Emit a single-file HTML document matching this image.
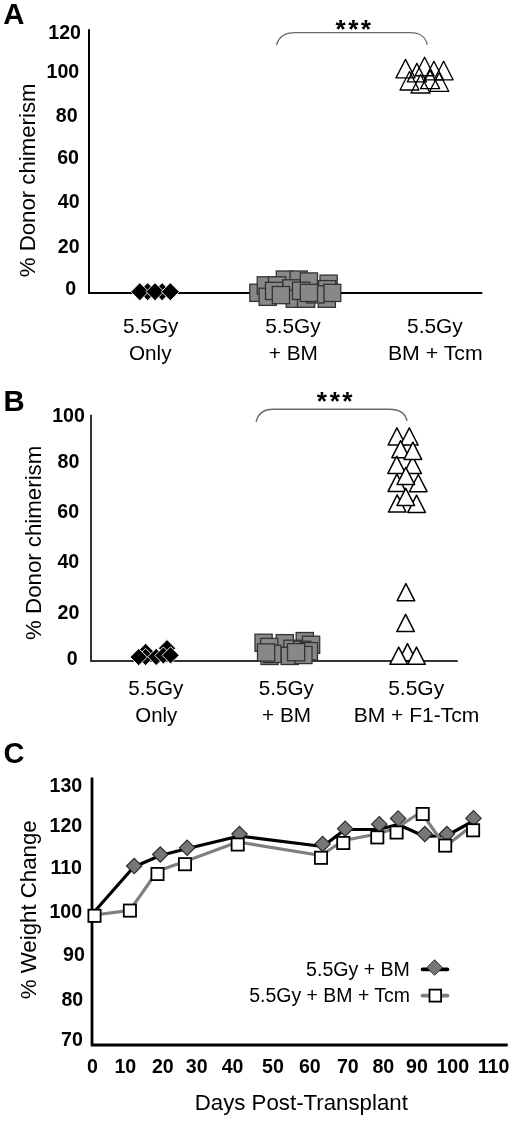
<!DOCTYPE html>
<html><head><meta charset="utf-8"><style>
html,body{margin:0;padding:0;background:#fff;}
svg{display:block;will-change:transform;}
text{font-family:"Liberation Sans", sans-serif;}
</style></head><body>
<svg width="520" height="1121" viewBox="0 0 520 1121">
<rect width="520" height="1121" fill="#fff"/>
<text x="3.27" y="23.90" font-size="29.3" font-weight="bold">A</text>
<text x="48.24" y="38.86" font-size="19.6" font-weight="bold">120</text>
<text x="46.54" y="77.81" font-size="19.6" font-weight="bold">100</text>
<text x="55.77" y="121.66" font-size="19.6" font-weight="bold">80</text>
<text x="57.17" y="163.51" font-size="19.6" font-weight="bold">60</text>
<text x="57.82" y="207.66" font-size="19.6" font-weight="bold">40</text>
<text x="57.77" y="253.21" font-size="19.6" font-weight="bold">20</text>
<text x="65.36" y="295.31" font-size="19.6" font-weight="bold">0</text>
<text transform="rotate(-90)" x="-277.28" y="35.30" font-size="22.7" textLength="193.82" lengthAdjust="spacingAndGlyphs">% Donor chimerism</text>
<path d="M89 29.2 V293 M88 293 H482.3" stroke="#000" stroke-width="2" fill="none"/>
<path d="M276.5 45.1 C278.5 37.5 285 32.6 295 32.6 L410 32.6 C420 32.6 426 37.5 427.2 44.7" stroke="#6a6a6a" stroke-width="1.4" fill="none"/>
<text x="335.47" y="37.78" font-size="26.3" font-weight="bold">*</text>
<text x="348.22" y="37.78" font-size="26.3" font-weight="bold">*</text>
<text x="360.72" y="37.78" font-size="26.3" font-weight="bold">*</text>
<path d="M138.60 291.70 L147.60 282.70 L156.60 291.70 L147.60 300.70 Z" fill="#000" stroke="#fff" stroke-width="0.85"/>
<path d="M153.10 291.70 L162.10 282.70 L171.10 291.70 L162.10 300.70 Z" fill="#000" stroke="#fff" stroke-width="0.85"/>
<path d="M130.80 291.70 L139.80 282.70 L148.80 291.70 L139.80 300.70 Z" fill="#000" stroke="#fff" stroke-width="0.85"/>
<path d="M146.00 291.70 L155.00 282.70 L164.00 291.70 L155.00 300.70 Z" fill="#000" stroke="#fff" stroke-width="0.85"/>
<path d="M161.30 291.70 L170.30 282.70 L179.30 291.70 L170.30 300.70 Z" fill="#000" stroke="#fff" stroke-width="0.85"/>
<rect x="249.8" y="284.2" width="17.2" height="17.2" fill="#888" stroke="#333" stroke-width="1.3"/>
<rect x="276.3" y="271.0" width="17.2" height="17.2" fill="#888" stroke="#333" stroke-width="1.3"/>
<rect x="290.1" y="271.0" width="17.2" height="17.2" fill="#888" stroke="#333" stroke-width="1.3"/>
<rect x="300.3" y="272.9" width="17.2" height="17.2" fill="#888" stroke="#333" stroke-width="1.3"/>
<rect x="320.0" y="275.1" width="17.2" height="17.2" fill="#888" stroke="#333" stroke-width="1.3"/>
<rect x="257.2" y="276.8" width="17.2" height="17.2" fill="#888" stroke="#333" stroke-width="1.3"/>
<rect x="268.5" y="276.8" width="17.2" height="17.2" fill="#888" stroke="#333" stroke-width="1.3"/>
<rect x="282.7" y="279.8" width="17.2" height="17.2" fill="#888" stroke="#333" stroke-width="1.3"/>
<rect x="259.1" y="288.2" width="17.2" height="17.2" fill="#888" stroke="#333" stroke-width="1.3"/>
<rect x="286.2" y="290.1" width="17.2" height="17.2" fill="#888" stroke="#333" stroke-width="1.3"/>
<rect x="297.5" y="290.1" width="17.2" height="17.2" fill="#888" stroke="#333" stroke-width="1.3"/>
<rect x="318.2" y="290.1" width="17.2" height="17.2" fill="#888" stroke="#333" stroke-width="1.3"/>
<rect x="265.5" y="282.3" width="17.2" height="17.2" fill="#888" stroke="#333" stroke-width="1.3"/>
<rect x="292.5" y="282.2" width="17.2" height="17.2" fill="#888" stroke="#333" stroke-width="1.3"/>
<rect x="318.5" y="280.6" width="17.2" height="17.2" fill="#888" stroke="#333" stroke-width="1.3"/>
<rect x="323.6" y="284.3" width="17.2" height="17.2" fill="#888" stroke="#333" stroke-width="1.3"/>
<rect x="306.7" y="285.8" width="17.2" height="17.2" fill="#888" stroke="#333" stroke-width="1.3"/>
<rect x="272.3" y="286.5" width="17.2" height="17.2" fill="#888" stroke="#333" stroke-width="1.3"/>
<rect x="300.3" y="284.3" width="17.2" height="17.2" fill="#888" stroke="#333" stroke-width="1.3"/>
<path d="M405.50 59.40 L415.00 77.90 L396.00 77.90 Z" fill="none" stroke="#000" stroke-width="1.35" stroke-linejoin="round"/>
<path d="M416.90 63.40 L426.40 81.90 L407.40 81.90 Z" fill="none" stroke="#000" stroke-width="1.35" stroke-linejoin="round"/>
<path d="M424.60 57.20 L434.10 75.70 L415.10 75.70 Z" fill="none" stroke="#000" stroke-width="1.35" stroke-linejoin="round"/>
<path d="M433.90 61.30 L443.40 79.80 L424.40 79.80 Z" fill="none" stroke="#000" stroke-width="1.35" stroke-linejoin="round"/>
<path d="M443.60 61.30 L453.10 79.80 L434.10 79.80 Z" fill="none" stroke="#000" stroke-width="1.35" stroke-linejoin="round"/>
<path d="M409.50 71.50 L419.00 90.00 L400.00 90.00 Z" fill="none" stroke="#000" stroke-width="1.35" stroke-linejoin="round"/>
<path d="M430.10 70.10 L439.60 88.60 L420.60 88.60 Z" fill="none" stroke="#000" stroke-width="1.35" stroke-linejoin="round"/>
<path d="M420.50 74.50 L430.00 93.00 L411.00 93.00 Z" fill="none" stroke="#000" stroke-width="1.35" stroke-linejoin="round"/>
<path d="M439.20 72.80 L448.70 91.30 L429.70 91.30 Z" fill="none" stroke="#000" stroke-width="1.35" stroke-linejoin="round"/>
<text x="122.97" y="333.40" font-size="20.8">5.5Gy</text>
<text x="265.17" y="333.40" font-size="20.8">5.5Gy</text>
<text x="407.06" y="333.40" font-size="20.8" textLength="55.70" lengthAdjust="spacingAndGlyphs">5.5Gy</text>
<text x="128.97" y="360.20" font-size="20.8" textLength="42.56" lengthAdjust="spacingAndGlyphs">Only</text>
<text x="268.76" y="360.20" font-size="20.8">+ BM</text>
<text x="387.90" y="360.20" font-size="20.8" textLength="94.78" lengthAdjust="spacingAndGlyphs">BM + Tcm</text>
<text x="3.40" y="410.60" font-size="29.3" font-weight="bold">B</text>
<text x="52.14" y="421.86" font-size="19.6" font-weight="bold">100</text>
<text x="57.62" y="468.31" font-size="19.6" font-weight="bold">80</text>
<text x="57.37" y="517.91" font-size="19.6" font-weight="bold">60</text>
<text x="57.47" y="568.31" font-size="19.6" font-weight="bold">40</text>
<text x="57.57" y="618.51" font-size="19.6" font-weight="bold">20</text>
<text x="66.66" y="665.21" font-size="19.6" font-weight="bold">0</text>
<text transform="rotate(-90)" x="-639.88" y="41.10" font-size="22.7" textLength="194.12" lengthAdjust="spacingAndGlyphs">% Donor chimerism</text>
<path d="M91 414.8 V661 M90 661 H457.8" stroke="#333" stroke-width="2" fill="none"/>
<path d="M256.1 421.8 C258 414 264 409.3 273 409.3 L389 409.3 C399 409.3 405.5 413.5 407 420.8" stroke="#6a6a6a" stroke-width="1.4" fill="none"/>
<text x="316.87" y="410.38" font-size="26.3" font-weight="bold">*</text>
<text x="329.72" y="410.38" font-size="26.3" font-weight="bold">*</text>
<text x="342.22" y="410.38" font-size="26.3" font-weight="bold">*</text>
<path d="M158.40 648.20 L167.00 639.60 L175.60 648.20 L167.00 656.80 Z" fill="#000" stroke="#fff" stroke-width="0.9"/>
<path d="M137.00 651.90 L145.60 643.30 L154.20 651.90 L145.60 660.50 Z" fill="#000" stroke="#fff" stroke-width="0.9"/>
<path d="M137.00 657.00 L145.60 648.40 L154.20 657.00 L145.60 665.60 Z" fill="#000" stroke="#fff" stroke-width="0.9"/>
<path d="M147.60 656.90 L156.20 648.30 L164.80 656.90 L156.20 665.50 Z" fill="#000" stroke="#fff" stroke-width="0.9"/>
<path d="M130.10 657.10 L138.70 648.50 L147.30 657.10 L138.70 665.70 Z" fill="#000" stroke="#fff" stroke-width="0.9"/>
<path d="M154.80 655.50 L163.40 646.90 L172.00 655.50 L163.40 664.10 Z" fill="#000" stroke="#fff" stroke-width="0.9"/>
<path d="M162.00 655.30 L170.60 646.70 L179.20 655.30 L170.60 663.90 Z" fill="#000" stroke="#fff" stroke-width="0.9"/>
<rect x="255" y="634.2" width="17.2" height="17.2" fill="#888" stroke="#333" stroke-width="1.3"/>
<rect x="276.2" y="634.6" width="17.2" height="17.2" fill="#888" stroke="#333" stroke-width="1.3"/>
<rect x="296.2" y="632.5" width="17.2" height="17.2" fill="#888" stroke="#333" stroke-width="1.3"/>
<rect x="260.6" y="638.4" width="17.2" height="17.2" fill="#888" stroke="#333" stroke-width="1.3"/>
<rect x="302.5" y="636.2" width="17.2" height="17.2" fill="#888" stroke="#333" stroke-width="1.3"/>
<rect x="283.9" y="640.2" width="17.2" height="17.2" fill="#888" stroke="#333" stroke-width="1.3"/>
<rect x="293.6" y="641.2" width="17.2" height="17.2" fill="#888" stroke="#333" stroke-width="1.3"/>
<rect x="300.3" y="642.6" width="17.2" height="17.2" fill="#888" stroke="#333" stroke-width="1.3"/>
<rect x="261" y="647.3" width="17.2" height="17.2" fill="#888" stroke="#333" stroke-width="1.3"/>
<rect x="281.1" y="647.3" width="17.2" height="17.2" fill="#888" stroke="#333" stroke-width="1.3"/>
<rect x="294.8" y="646.4" width="17.2" height="17.2" fill="#888" stroke="#333" stroke-width="1.3"/>
<rect x="263.7" y="645.3" width="17.2" height="17.2" fill="#888" stroke="#333" stroke-width="1.3"/>
<rect x="257.5" y="643.9" width="17.2" height="17.2" fill="#888" stroke="#333" stroke-width="1.3"/>
<rect x="287.5" y="643.6" width="17.2" height="17.2" fill="#888" stroke="#333" stroke-width="1.3"/>
<path d="M396.90 427.80 L405.70 445.00 L388.10 445.00 Z" fill="#fff" stroke="#000" stroke-width="1.5" stroke-linejoin="round"/>
<path d="M409.30 427.80 L418.10 445.00 L400.50 445.00 Z" fill="#fff" stroke="#000" stroke-width="1.5" stroke-linejoin="round"/>
<path d="M400.60 440.60 L409.40 457.80 L391.80 457.80 Z" fill="#fff" stroke="#000" stroke-width="1.5" stroke-linejoin="round"/>
<path d="M412.60 456.40 L421.40 473.60 L403.80 473.60 Z" fill="#fff" stroke="#000" stroke-width="1.5" stroke-linejoin="round"/>
<path d="M412.90 442.20 L421.70 459.40 L404.10 459.40 Z" fill="#fff" stroke="#000" stroke-width="1.5" stroke-linejoin="round"/>
<path d="M396.70 456.20 L405.50 473.40 L387.90 473.40 Z" fill="#fff" stroke="#000" stroke-width="1.5" stroke-linejoin="round"/>
<path d="M396.90 474.20 L405.70 491.40 L388.10 491.40 Z" fill="#fff" stroke="#000" stroke-width="1.5" stroke-linejoin="round"/>
<path d="M418.30 474.50 L427.10 491.70 L409.50 491.70 Z" fill="#fff" stroke="#000" stroke-width="1.5" stroke-linejoin="round"/>
<path d="M405.80 467.30 L414.60 484.50 L397.00 484.50 Z" fill="#fff" stroke="#000" stroke-width="1.5" stroke-linejoin="round"/>
<path d="M397.20 494.80 L406.00 512.00 L388.40 512.00 Z" fill="#fff" stroke="#000" stroke-width="1.5" stroke-linejoin="round"/>
<path d="M416.60 495.20 L425.40 512.40 L407.80 512.40 Z" fill="#fff" stroke="#000" stroke-width="1.5" stroke-linejoin="round"/>
<path d="M405.80 488.30 L414.60 505.50 L397.00 505.50 Z" fill="#fff" stroke="#000" stroke-width="1.5" stroke-linejoin="round"/>
<path d="M405.90 583.60 L414.70 600.80 L397.10 600.80 Z" fill="#fff" stroke="#000" stroke-width="1.5" stroke-linejoin="round"/>
<path d="M405.60 614.40 L414.40 631.60 L396.80 631.60 Z" fill="#fff" stroke="#000" stroke-width="1.5" stroke-linejoin="round"/>
<path d="M407.50 643.60 L416.30 660.80 L398.70 660.80 Z" fill="#fff" stroke="#000" stroke-width="1.5" stroke-linejoin="round"/>
<path d="M398.70 647.10 L407.50 664.30 L389.90 664.30 Z" fill="#fff" stroke="#000" stroke-width="1.5" stroke-linejoin="round"/>
<path d="M416.50 647.10 L425.30 664.30 L407.70 664.30 Z" fill="#fff" stroke="#000" stroke-width="1.5" stroke-linejoin="round"/>
<text x="128.37" y="695.40" font-size="20.8" textLength="55.09" lengthAdjust="spacingAndGlyphs">5.5Gy</text>
<text x="258.67" y="695.40" font-size="20.8" textLength="55.19" lengthAdjust="spacingAndGlyphs">5.5Gy</text>
<text x="388.16" y="695.40" font-size="20.8" textLength="56.00" lengthAdjust="spacingAndGlyphs">5.5Gy</text>
<text x="135.28" y="722.30" font-size="20.8" textLength="42.05" lengthAdjust="spacingAndGlyphs">Only</text>
<text x="262.07" y="722.30" font-size="20.8" textLength="48.83" lengthAdjust="spacingAndGlyphs">+ BM</text>
<text x="353.72" y="722.30" font-size="20.8" textLength="125.61" lengthAdjust="spacingAndGlyphs">BM + F1-Tcm</text>
<text x="3.44" y="762.50" font-size="29.0" font-weight="bold">C</text>
<text x="49.49" y="792.01" font-size="19.6" font-weight="bold">130</text>
<text x="49.49" y="831.91" font-size="19.6" font-weight="bold">120</text>
<text x="50.38" y="874.36" font-size="19.6" font-weight="bold">110</text>
<text x="49.39" y="917.91" font-size="19.6" font-weight="bold">100</text>
<text x="63.12" y="960.61" font-size="19.6" font-weight="bold">90</text>
<text x="61.42" y="1006.26" font-size="19.6" font-weight="bold">80</text>
<text x="61.07" y="1046.26" font-size="19.6" font-weight="bold">70</text>
<text transform="rotate(-90)" x="-999.18" y="36.00" font-size="22.6" textLength="178.83" lengthAdjust="spacingAndGlyphs">% Weight Change</text>
<path d="M92 777.5 V1045 M90.8 1045 H507.7" stroke="#000" stroke-width="2.8" fill="none"/>
<text x="86.91" y="1072.56" font-size="19.6" font-weight="bold">0</text>
<text x="114.43" y="1072.56" font-size="19.6" font-weight="bold">10</text>
<text x="151.97" y="1072.56" font-size="19.6" font-weight="bold">20</text>
<text x="185.77" y="1072.56" font-size="19.6" font-weight="bold">30</text>
<text x="221.67" y="1072.56" font-size="19.6" font-weight="bold">40</text>
<text x="262.12" y="1072.56" font-size="19.6" font-weight="bold">50</text>
<text x="298.97" y="1072.56" font-size="19.6" font-weight="bold">60</text>
<text x="336.97" y="1072.56" font-size="19.6" font-weight="bold">70</text>
<text x="372.42" y="1072.56" font-size="19.6" font-weight="bold">80</text>
<text x="406.07" y="1072.56" font-size="19.6" font-weight="bold">90</text>
<text x="436.44" y="1072.56" font-size="19.6" font-weight="bold">100</text>
<text x="477.78" y="1072.56" font-size="19.6" font-weight="bold">110</text>
<text x="194.72" y="1110.40" font-size="21.2" textLength="213.16" lengthAdjust="spacingAndGlyphs">Days Post-Transplant</text>
<polyline points="91,915.5 133.7,867 160.3,855.5 186.5,848.7 239.4,836 322.8,846.5 345,829.5 379.3,829.3 398.1,824.5 424.8,836.5 446.9,835.5 473.4,821" fill="none" stroke="#000" stroke-width="3.2" stroke-linejoin="round"/>
<path d="M126.50 866.00 L134.20 858.30 L141.90 866.00 L134.20 873.70 Z" fill="#777" stroke="#2a2a2a" stroke-width="1.1"/>
<path d="M152.60 854.50 L160.30 846.80 L168.00 854.50 L160.30 862.20 Z" fill="#777" stroke="#2a2a2a" stroke-width="1.1"/>
<path d="M179.50 847.70 L187.20 840.00 L194.90 847.70 L187.20 855.40 Z" fill="#777" stroke="#2a2a2a" stroke-width="1.1"/>
<path d="M231.80 834.00 L239.50 826.30 L247.20 834.00 L239.50 841.70 Z" fill="#777" stroke="#2a2a2a" stroke-width="1.1"/>
<path d="M314.90 844.00 L322.60 836.30 L330.30 844.00 L322.60 851.70 Z" fill="#777" stroke="#2a2a2a" stroke-width="1.1"/>
<path d="M337.50 828.70 L345.20 821.00 L352.90 828.70 L345.20 836.40 Z" fill="#777" stroke="#2a2a2a" stroke-width="1.1"/>
<path d="M371.60 824.20 L379.30 816.50 L387.00 824.20 L379.30 831.90 Z" fill="#777" stroke="#2a2a2a" stroke-width="1.1"/>
<path d="M390.40 818.40 L398.10 810.70 L405.80 818.40 L398.10 826.10 Z" fill="#777" stroke="#2a2a2a" stroke-width="1.1"/>
<path d="M417.10 834.00 L424.80 826.30 L432.50 834.00 L424.80 841.70 Z" fill="#777" stroke="#2a2a2a" stroke-width="1.1"/>
<path d="M439.20 834.00 L446.90 826.30 L454.60 834.00 L446.90 841.70 Z" fill="#777" stroke="#2a2a2a" stroke-width="1.1"/>
<path d="M465.80 818.20 L473.50 810.50 L481.20 818.20 L473.50 825.90 Z" fill="#777" stroke="#2a2a2a" stroke-width="1.1"/>
<polyline points="94.5,915 129.9,910.3 157.5,871 185,861.5 237.7,842 321,855.5 343.3,840.5 377.3,834 396.6,828 421,812 445.2,846.5 473,825" fill="none" stroke="#7f7f7f" stroke-width="3.2" stroke-linejoin="round"/>
<rect x="88.40" y="909.70" width="12.2" height="12.2" fill="#fff" stroke="#000" stroke-width="1.8"/>
<rect x="123.80" y="904.50" width="12.2" height="12.2" fill="#fff" stroke="#000" stroke-width="1.8"/>
<rect x="151.40" y="867.90" width="12.2" height="12.2" fill="#fff" stroke="#000" stroke-width="1.8"/>
<rect x="178.90" y="858.10" width="12.2" height="12.2" fill="#fff" stroke="#000" stroke-width="1.8"/>
<rect x="231.60" y="838.40" width="12.2" height="12.2" fill="#fff" stroke="#000" stroke-width="1.8"/>
<rect x="314.90" y="851.70" width="12.2" height="12.2" fill="#fff" stroke="#000" stroke-width="1.8"/>
<rect x="337.20" y="836.90" width="12.2" height="12.2" fill="#fff" stroke="#000" stroke-width="1.8"/>
<rect x="371.20" y="831.30" width="12.2" height="12.2" fill="#fff" stroke="#000" stroke-width="1.8"/>
<rect x="390.50" y="826.40" width="12.2" height="12.2" fill="#fff" stroke="#000" stroke-width="1.8"/>
<rect x="416.60" y="807.90" width="12.2" height="12.2" fill="#fff" stroke="#000" stroke-width="1.8"/>
<rect x="439.10" y="839.50" width="12.2" height="12.2" fill="#fff" stroke="#000" stroke-width="1.8"/>
<rect x="467.00" y="824.20" width="12.2" height="12.2" fill="#fff" stroke="#000" stroke-width="1.8"/>
<text x="306.12" y="976.30" font-size="19.5" textLength="103.80" lengthAdjust="spacingAndGlyphs">5.5Gy + BM</text>
<text x="249.22" y="1002.00" font-size="19.5" textLength="160.79" lengthAdjust="spacingAndGlyphs">5.5Gy + BM + Tcm</text>
<path d="M422.5 969.4 H447.5" stroke="#000" stroke-width="3.6" stroke-linecap="round"/>
<path d="M426.80 967.50 L434.60 959.70 L442.40 967.50 L434.60 975.30 Z" fill="#777" stroke="#333" stroke-width="1"/>
<path d="M422.5 995.6 H447.5" stroke="#7f7f7f" stroke-width="3.8" stroke-linecap="round"/>
<rect x="429.5" y="989.6" width="11.6" height="12" fill="#fff" stroke="#000" stroke-width="1.8"/>
</svg>
</body></html>
